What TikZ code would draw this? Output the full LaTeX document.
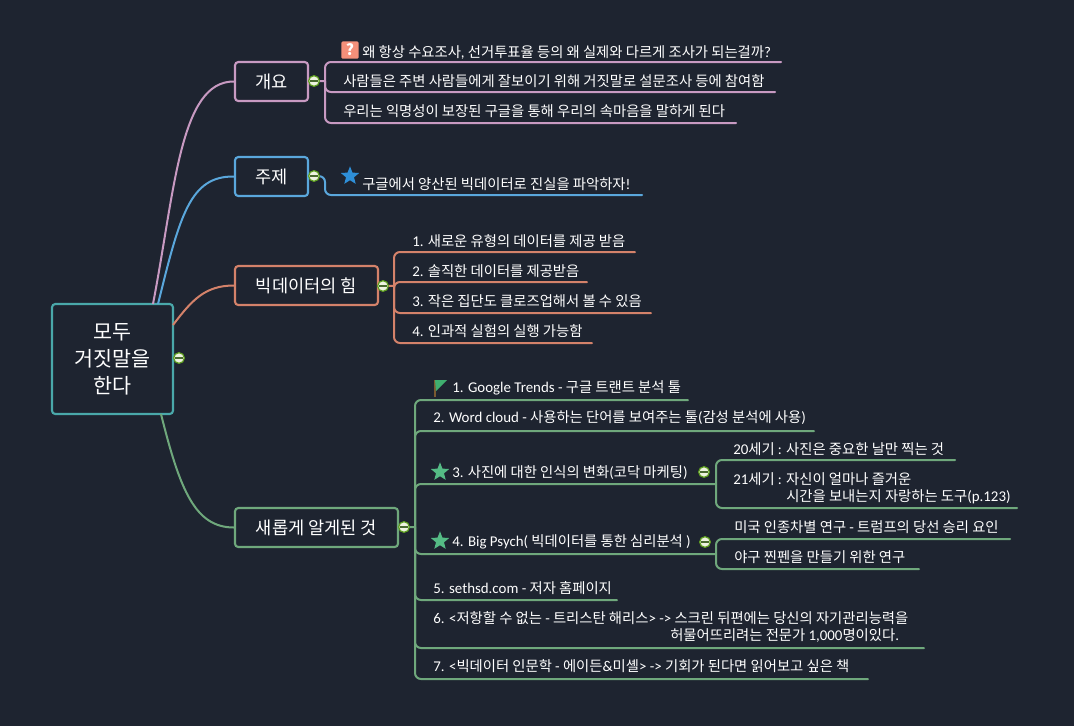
\documentclass[tikz,border=0pt]{standalone}
\usepackage{fontspec}
\setmainfont{Noto Sans CJK KR}
\newfontfamily\latfont{Carlito}[Scale=1.04]
\newcommand{\lt}[1]{{\latfont #1}}
\usetikzlibrary{shapes.geometric}
\definecolor{bg}{HTML}{1E2430}
\definecolor{cteal}{HTML}{4AA8AA}
\definecolor{cpink}{HTML}{C89AC2}
\definecolor{cblue}{HTML}{5AA7DC}
\definecolor{corange}{HTML}{D4826A}
\definecolor{cgreen}{HTML}{6FA87C}
\definecolor{btnfill}{HTML}{EEF3E0}
\definecolor{btnring}{HTML}{5FA020}
\definecolor{btnbar}{HTML}{4A6A30}
\definecolor{starblue}{HTML}{2E8FD8}
\definecolor{stargreen}{HTML}{55BB85}
\definecolor{flaggreen}{HTML}{3FAF6F}
\definecolor{flagpole}{HTML}{7A5A30}
\definecolor{salmon}{HTML}{F5907A}
\tikzset{
  x=0.75pt,y=-0.75pt,
  topic/.style={draw=#1,line width=1.6pt,rounded corners=2.5pt,inner sep=0pt,text=white,align=center,font=\fontsize{13.2}{15}\selectfont},
  rowtext/.style={anchor=west,inner sep=0pt,yshift=-0.75pt,text=white,font=\fontsize{10.75}{12}\selectfont},
  link/.style={draw=#1,line width=1.5pt,line cap=round,rounded corners=4.5pt},
  curve/.style={draw=#1,line width=1.5pt},
  starmark/.style={star,star points=5,star point ratio=2.3,fill=#1,inner sep=0pt,minimum size=14.5pt},
}
\newcommand{\togglebtn}[2]{%
  \node[circle,fill=btnfill,draw=btnring,line width=0.9pt,minimum size=8pt,inner sep=0pt] (#1) at #2 {};
  \draw[draw=btnbar,line width=0.85pt] ([xshift=-2.8pt]#1.center) -- ([xshift=2.8pt]#1.center);}
\begin{document}
\begin{tikzpicture}
\fill[bg] (0,0) rectangle (1074,726);
\useasboundingbox (0,0) rectangle (1074,726);

% topics
\node[topic=cteal,minimum width=90.75pt,minimum height=82.5pt,font=\fontsize{15.5}{20.2}\selectfont] (root) at (112.5,359) {모두\\거짓말을\\한다};
\node[topic=cpink,minimum width=54.75pt,minimum height=29.25pt] (t1) at (271.5,81.5) {개요};
\node[topic=cblue,minimum width=54.75pt,minimum height=29.25pt] (t2) at (271.5,176.5) {주제};
\node[topic=corange,minimum width=107.25pt,minimum height=29.25pt] (t3) at (306.5,285.5) {빅데이터의 힘};
\node[topic=cgreen,minimum width=122.25pt,minimum height=29.25pt] (t4) at (316.5,527.5) {새롭게 알게된 것};

% root curves
\coordinate (r1) at (153,304);
\coordinate (r2) at (158,304);
\coordinate (r3) at (173,325);
\coordinate (r4) at (161,414);
\draw[curve=cpink] (r1) .. controls (175,190) and (180,81) .. (t1.west);
\draw[curve=cblue] (r2) .. controls (180,215) and (190,176) .. (t2.west);
\draw[curve=corange] (r3) .. controls (192,300) and (205,285.5) .. (t3.west);
\draw[curve=cgreen] (r4) .. controls (180,490) and (195,527.5) .. (t4.west);

% ---- rows 1
\coordinate (a) at (325,81);
\coordinate (a1) at (781,62);
\coordinate (a2) at (775,92);
\coordinate (a3) at (736,123);
\coordinate (b0) at (325,176);
\coordinate (b1) at (642,195);
\coordinate (c) at (394,286);
\coordinate (c1) at (635,252);
\coordinate (c2) at (587,282);
\coordinate (c3) at (651,313);
\coordinate (c4) at (592,343);
\draw[link=cpink] (t1.east) -- (a);
\draw[link=cpink] (a) |- (a1);
\draw[link=cpink] (a) |- (a2);
\draw[link=cpink] (a) |- (a3);
\draw[link=cblue] (t2.east) -- (b0) |- (b1);
\draw[link=corange] (t3.east) -- (c);
\draw[link=corange] (c) |- (c1);
\draw[link=corange] (c) |- (c2);
\draw[link=corange] (c) |- (c3);
\draw[link=corange] (c) |- (c4);

% ---- rows 4
\coordinate (d) at (415,527);
\coordinate (d1) at (688,400);
\coordinate (d2) at (814,431);
\coordinate (d3) at (716,484);
\coordinate (d4) at (716,554);
\coordinate (d5) at (617,600);
\coordinate (d6) at (924,648);
\coordinate (d7) at (868,679);
\coordinate (e1) at (955,460);
\coordinate (e2) at (1017,508);
\coordinate (f1) at (1010,539);
\coordinate (f2) at (919,569);
\draw[link=cgreen] (t4.east) -- (d);
\foreach \p in {d1,d2,d3,d4,d5,d6,d7} \draw[link=cgreen] (d) |- (\p);
\draw[link=cgreen] (d3) |- (e1);
\draw[link=cgreen] (d3) |- (e2);
\draw[link=cgreen] (d4) |- (f1);
\draw[link=cgreen] (d4) |- (f2);

% toggle buttons
\togglebtn{btn0}{(179,358)}
\togglebtn{btn1}{(314,81)}
\togglebtn{btn2}{(314,176)}
\togglebtn{btn3}{(383,286)}
\togglebtn{btn4}{(404,527)}
\togglebtn{btn5}{(704,472)}
\togglebtn{btn6}{(705,542)}

% icons
\node[fill=salmon,rounded corners=1pt,minimum size=13pt,inner sep=0pt,text=white,font=\fontsize{11.5}{11.5}\bfseries\selectfont] (qmark) at (350,50) {?};
\node[starmark=starblue] (s1) at (350,176) {};
\node[starmark=stargreen] (s2) at (440,472) {};
\node[starmark=stargreen] (s3) at (440,541) {};
\coordinate (flagb) at (435,397);
\coordinate (flagt) at (435,380);
\draw[draw=flagpole,line width=0.8pt] (flagb) -- (flagt);
\fill[flaggreen] (flagt) -- (447,380) -- (436,391) -- cycle;

% texts
\node[rowtext] (ta1) at (362,51) {왜 항상 수요조사\lt{,} 선거투표율 등의 왜 실제와 다르게 조사가 되는걸까\lt{?}};
\node[rowtext] (ta2) at (343,80) {사람들은 주변 사람들에게 잘보이기 위해 거짓말로 설문조사 등에 참여함};
\node[rowtext] (ta3) at (343,110) {우리는 익명성이 보장된 구글을 통해 우리의 속마음을 말하게 된다};
\node[rowtext] (tb1) at (362,183) {구글에서 양산된 빅데이터로 진실을 파악하자\lt{!}};
\node[rowtext] (tc1) at (412,240) {\lt{1.} 새로운 유형의 데이터를 제공 받음};
\node[rowtext] (tc2) at (412,270) {\lt{2.} 솔직한 데이터를 제공받음};
\node[rowtext] (tc3) at (412,300) {\lt{3.} 작은 집단도 클로즈업해서 볼 수 있음};
\node[rowtext] (tc4) at (412,330) {\lt{4.} 인과적 실험의 실행 가능함};
\node[rowtext] (td1) at (452,387) {\lt{1. Google Trends -} 구글 트랜트 분석 툴};
\node[rowtext] (td2) at (433,417) {\lt{2. Word cloud -} 사용하는 단어를 보여주는 툴\lt{(}감성 분석에 사용\lt{)}};
\node[rowtext] (td3) at (452,472) {\lt{3.} 사진에 대한 인식의 변화\lt{(}코닥 마케팅\lt{)}};
\node[rowtext] (td4) at (452,541) {\lt{4. Big Psych(} 빅데이터를 통한 심리분석 \lt{)}};
\node[rowtext] (td5) at (433,587) {\lt{5. sethsd.com -} 저자 홈페이지};
\node[rowtext] (td6) at (433,617) {\lt{6. <}저항할 수 없는 \lt{-} 트리스탄 해리스\lt{> ->} 스크린 뒤편에는 당신의 자기관리능력을};
\node[rowtext] (td6b) at (670,635) {허물어뜨리려는 전문가 \lt{1,000}명이있다\lt{.}};
\node[rowtext] (td7) at (433,665) {\lt{7. <}빅데이터 인문학 \lt{-} 에이든\lt{\&}미셸\lt{> ->} 기회가 된다면 읽어보고 싶은 책};
\node[rowtext] (te1) at (733,448) {\lt{20}세기 \lt{:} 사진은 중요한 날만 찍는 것};
\node[rowtext] (te2) at (733,478) {\lt{21}세기 \lt{:} 자신이 얼마나 즐거운};
\node[rowtext] (te2b) at (786,496) {시간을 보내는지 자랑하는 도구\lt{(p.123)}};
\node[rowtext] (tf1) at (734,526) {미국 인종차별 연구 \lt{-} 트럼프의 당선 승리 요인};
\node[rowtext] (tf2) at (734,556) {야구 찐펜을 만들기 위한 연구};
\end{tikzpicture}
\end{document}
